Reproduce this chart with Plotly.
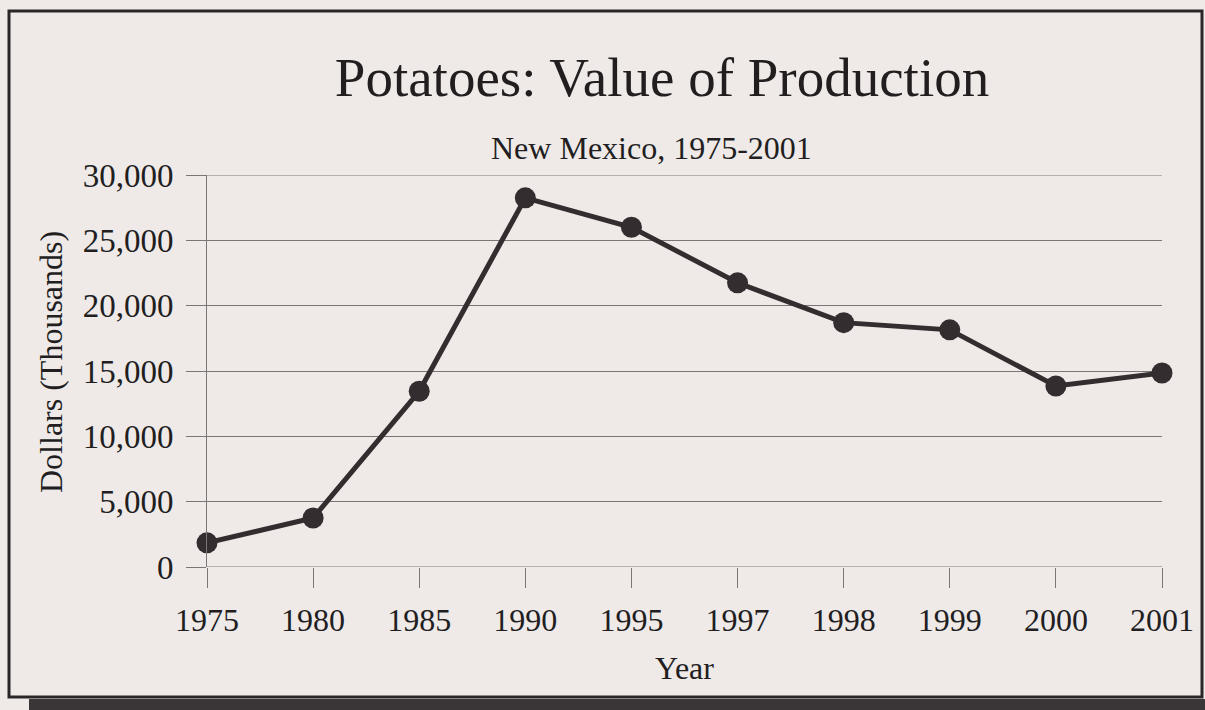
import plotly.graph_objects as go

years = ["1975", "1980", "1985", "1990", "1995", "1997", "1998", "1999", "2000", "2001"]
values = [1850, 3750, 13450, 28250, 26000, 21750, 18700, 18150, 13850, 14850]
y_ticks = [0, 5000, 10000, 15000, 20000, 25000, 30000]
y_tick_labels = ["0", "5,000", "10,000", "15,000", "20,000", "25,000", "30,000"]

W, H = 1205, 710
ML, MR, MT, MB = 207, 43, 175, 143
PW, PH = W - ML - MR, H - MT - MB

def px(x):
    return (x - ML) / PW

def py(y):
    return (H - MB - y) / PH

FONT = "Liberation Serif, Times New Roman, serif"
INK = "#221e1f"
GRID = "#7a7677"

fig = go.Figure()
fig.add_trace(go.Scatter(
    x=years, y=values, mode="lines+markers",
    line=dict(color="#332d2f", width=5),
    marker=dict(color="#332d2f", size=21),
    cliponaxis=False, showlegend=False, hoverinfo="skip",
))

# gridlines at the range ends (plotly omits them at the plot edges)
edge_grid = [
    dict(type="line", xref="paper", yref="y", x0=0, x1=1, y0=v, y1=v,
         line=dict(color=GRID, width=1), layer="below")
    for v in (y_ticks[0], y_ticks[-1])
]

fig.update_layout(
    width=W, height=H,
    margin=dict(l=ML, r=MR, t=MT, b=MB),
    paper_bgcolor="#efeae8",
    plot_bgcolor="rgba(0,0,0,0)",
    font=dict(family=FONT, color=INK, size=32),
    title=dict(text="Potatoes: Value of Production", x=px(662), xanchor="center",
               y=1 - 77 / H, yanchor="middle", xref="paper",
               font=dict(size=55, family=FONT, color=INK)),
    xaxis=dict(
        type="category", range=[0, len(years) - 1],
        showgrid=False, zeroline=False, showline=False,
        ticks="outside", ticklen=20, tickcolor=GRID, tickwidth=1,
        tickfont=dict(size=32), ticklabelstandoff=5,
    ),
    yaxis=dict(
        range=[0, 30000], tickvals=y_ticks, ticktext=y_tick_labels,
        showgrid=True, gridcolor=GRID, gridwidth=1,
        zeroline=False, showline=True, linecolor=GRID, linewidth=1,
        ticks="outside", ticklen=20, tickcolor=GRID, tickwidth=1,
        tickfont=dict(size=33), ticklabelstandoff=6,
    ),
    annotations=[
        dict(text="New Mexico, 1975-2001", xref="paper", yref="paper",
             x=px(651), y=py(148), xanchor="center", yanchor="middle",
             showarrow=False, font=dict(size=32)),
        dict(text="Dollars (Thousands)", xref="paper", yref="paper",
             x=px(51), y=py(362), xanchor="center", yanchor="middle",
             textangle=-90, showarrow=False, font=dict(size=32)),
        dict(text="Year", xref="paper", yref="paper",
             x=px(684), y=py(668), xanchor="center", yanchor="middle",
             showarrow=False, font=dict(size=32)),
    ],
    shapes=[
        dict(type="rect", xref="paper", yref="paper",
             x0=px(9), x1=px(1202), y0=py(697), y1=py(11),
             line=dict(color="#2a2627", width=3), fillcolor="rgba(0,0,0,0)", layer="below"),
        dict(type="rect", xref="paper", yref="paper",
             x0=px(29), x1=px(1210), y0=py(715), y1=py(699),
             line=dict(width=0), fillcolor="#3a3537", layer="below"),
    ] + edge_grid,
)

fig.write_html(
    "out.html",
    config={"displayModeBar": False},
    post_script="document.body.style.margin='0';document.body.style.overflow='hidden';",
)
